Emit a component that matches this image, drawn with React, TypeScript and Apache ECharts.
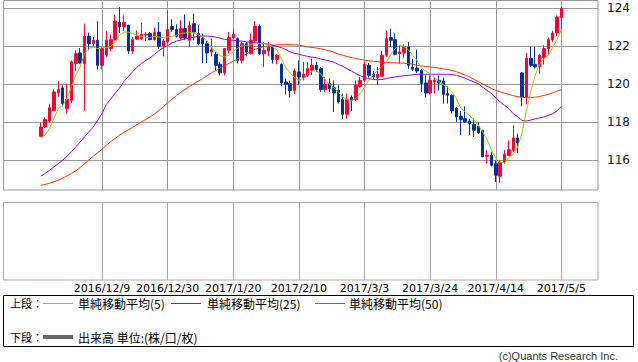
import React, { useEffect, useRef } from "react";
import * as echarts from "echarts";

// ---- data ----
function buildWeekdays(n: number): string[] {
  const out: string[] = [];
  const d = new Date(Date.UTC(2016, 10, 21));
  while (out.length < n) {
    const wd = d.getUTCDay();
    if (wd !== 0 && wd !== 6) out.push(`${d.getUTCFullYear()}/${d.getUTCMonth() + 1}/${d.getUTCDate()}`);
    d.setUTCDate(d.getUTCDate() + 1);
  }
  return out;
}
const dates: string[] = buildWeekdays(120);

const opens = [
  117.26, 117.75, 118.07, 118.63, 119.54, 119.81, 118.72, 119.16, 121.09, 121.65,
  121.09, 122.53, 122.14, 122.32, 121.0, 121.53, 121.88, 122.35, 123.26, 123.02,
  123.11, 121.75, 122.37, 122.4, 122.6, 122.67, 122.35, 122.74, 122.0, 122.23,
  123.05, 122.88, 122.44, 122.93, 122.32, 123.19, 122.67, 122.4, 122.14, 121.7,
  121.58, 121.05, 120.6, 121.79, 122.46, 122.4, 121.26, 122.14, 121.61, 122.28,
  123.05, 121.61, 121.75, 121.96, 121.3, 121.05, 120.12, 120.04, 119.68, 120.65,
  120.35, 120.47, 120.74, 121.0, 120.82, 119.72, 120.04, 119.82, 119.68, 119.19,
  118.42, 119.3, 119.19, 119.89, 120.21, 121.0, 120.53, 120.35, 120.42, 121.53,
  122.46, 122.35, 121.61, 121.65, 121.96, 120.91, 120.86, 120.74, 120.07, 119.54,
  120.12, 120.21, 120.18, 119.51, 119.42, 118.75, 118.32, 118.19, 118.07, 117.89,
  117.79, 117.58, 116.21, 116.26, 115.82, 115.16, 115.91, 116.26, 116.53, 117.18,
  120.6, 119.33, 121.37, 121.05, 120.91, 121.4, 121.88, 122.35, 122.7, 123.51,
];
const closes = [
  117.75, 118.14, 118.77, 119.6, 119.72, 118.98, 119.21, 121.18, 121.61, 121.12,
  122.53, 122.14, 122.32, 121.0, 121.88, 122.32, 122.35, 123.33, 123.02, 123.26,
  121.75, 122.35, 122.53, 122.63, 122.63, 122.35, 122.72, 122.0, 122.28, 122.88,
  122.88, 122.53, 122.93, 122.44, 123.11, 122.75, 122.14, 122.14, 121.65, 121.82,
  121.0, 120.6, 121.88, 122.46, 122.63, 121.26, 122.14, 121.7, 122.32, 123.05,
  121.61, 121.79, 121.96, 121.3, 121.53, 120.07, 120.0, 119.68, 120.7, 120.39,
  120.53, 120.82, 121.0, 120.77, 119.72, 120.0, 119.77, 119.54, 119.07, 118.42,
  119.19, 119.16, 119.95, 120.21, 121.05, 120.47, 120.39, 120.53, 121.53, 122.4,
  122.32, 121.58, 121.7, 122.0, 121.0, 120.79, 120.7, 120.04, 119.54, 120.21,
  120.21, 120.07, 119.47, 119.42, 118.6, 118.28, 118.14, 118.02, 117.93, 117.58,
  117.44, 116.18, 116.26, 115.74, 115.21, 115.91, 116.32, 116.56, 117.18, 116.91,
  119.33, 121.37, 121.0, 120.91, 121.53, 121.88, 122.35, 122.7, 123.54, 123.98,
];
const lows = [
  117.23, 117.7, 118.0, 118.58, 119.33, 118.84, 118.46, 119.0, 120.68, 121.09,
  118.6, 121.79, 121.96, 120.77, 120.79, 121.44, 121.75, 122.3, 122.7, 122.8,
  121.6, 121.61, 122.35, 122.32, 122.28, 122.32, 122.3, 121.88, 121.47, 122.18,
  122.75, 122.46, 122.35, 122.32, 121.96, 122.32, 122.05, 121.12, 121.12, 121.47,
  120.74, 120.47, 120.47, 121.61, 122.4, 121.09, 121.09, 121.47, 121.58, 122.23,
  121.53, 120.91, 121.47, 121.09, 121.05, 119.89, 119.47, 119.3, 119.49, 119.95,
  120.21, 120.39, 120.47, 120.65, 119.6, 119.6, 119.6, 118.54, 118.98, 118.19,
  118.19, 118.6, 119.12, 119.82, 120.12, 120.35, 120.28, 119.95, 120.39, 121.44,
  121.96, 121.53, 121.09, 121.4, 120.82, 120.7, 120.6, 119.6, 119.3, 119.47,
  119.51, 119.68, 118.98, 118.98, 118.46, 118.02, 117.32, 117.96, 117.32, 117.23,
  117.4, 116.18, 115.82, 115.68, 114.86, 114.81, 115.82, 116.21, 116.44, 116.39,
  118.84, 118.95, 120.91, 120.82, 120.56, 121.05, 121.53, 122.23, 122.53, 122.93,
];
const highs = [
  117.98, 118.25, 118.98, 119.72, 120.16, 119.95, 120.04, 121.26, 121.79, 121.91,
  123.19, 122.72, 122.49, 123.32, 121.96, 122.8, 122.62, 123.67, 124.07, 123.63,
  123.12, 122.49, 122.84, 123.23, 122.75, 122.75, 122.98, 123.28, 122.37, 123.86,
  123.42, 123.16, 123.37, 123.68, 123.33, 123.72, 123.11, 122.67, 122.32, 122.4,
  121.7, 121.18, 121.88, 122.75, 122.93, 122.46, 122.23, 122.23, 122.67, 123.33,
  123.16, 122.23, 122.23, 122.05, 121.61, 121.09, 120.3, 120.21, 120.82, 121.26,
  121.18, 121.18, 121.35, 121.18, 120.91, 120.39, 120.3, 120.21, 119.95, 119.51,
  119.51, 119.42, 120.21, 120.39, 121.18, 121.12, 120.7, 120.91, 121.75, 122.84,
  122.93, 122.67, 122.05, 122.11, 122.23, 121.35, 121.82, 120.82, 120.47, 120.47,
  120.35, 120.47, 120.35, 119.89, 119.47, 118.81, 118.6, 118.84, 118.19, 118.19,
  118.02, 117.58, 116.53, 116.44, 116.0, 116.0, 116.53, 117.05, 117.84, 117.4,
  120.65, 121.65, 122.0, 121.96, 121.61, 122.05, 122.46, 122.81, 123.63, 124.07,
];
const ma5 = [
  117.18, 117.32, 117.67, 118.19, 118.72, 118.89, 119.25, 119.86, 120.47, 120.91,
  121.61, 121.88, 121.96, 121.88, 121.93, 121.93, 122.0, 122.23, 122.58, 122.75,
  122.75, 122.67, 122.58, 122.53, 122.46, 122.46, 122.53, 122.49, 122.46, 122.49,
  122.53, 122.58, 122.67, 122.7, 122.74, 122.7, 122.6, 122.5, 122.28, 121.96,
  121.73, 121.5, 121.44, 121.53, 121.72, 121.9, 122.03, 122.05, 122.09, 122.14,
  122.14, 122.13, 122.11, 121.98, 121.8, 121.35, 120.88, 120.6, 120.35, 120.21,
  120.3, 120.52, 120.7, 120.7, 120.55, 120.25, 120.0, 119.83, 119.6, 119.33,
  119.2, 119.16, 119.25, 119.5, 119.85, 120.2, 120.5, 120.72, 120.95, 121.18,
  121.57, 121.88, 122.05, 122.0, 121.82, 121.53, 121.26, 120.85, 120.7, 120.56,
  120.35, 120.15, 119.98, 119.85, 119.6, 119.25, 118.75, 118.55, 118.37, 118.12,
  117.85, 117.5, 117.1, 116.55, 116.1, 115.88, 115.88, 116.15, 116.3, 116.7,
  117.45, 118.6, 119.6, 120.45, 121.05, 121.35, 121.53, 121.92, 122.35, 122.88,
];
const ma25 = [
  115.16, 115.31, 115.47, 115.65, 115.82, 116.0, 116.21, 116.45, 116.7, 116.96,
  117.23, 117.5, 117.75, 118.1, 118.46, 118.95, 119.22, 119.52, 119.8, 120.15,
  120.4, 120.66, 120.9, 121.09, 121.25, 121.4, 121.58, 121.77, 121.92, 122.04,
  122.18, 122.27, 122.33, 122.39, 122.44, 122.48, 122.52, 122.54, 122.54, 122.52,
  122.48, 122.43, 122.37, 122.34, 122.32, 122.29, 122.27, 122.24, 122.21, 122.19,
  122.17, 122.15, 122.12, 122.06, 122.0, 121.93, 121.83, 121.71, 121.63, 121.58,
  121.52, 121.47, 121.43, 121.4, 121.33, 121.28, 121.23, 121.17, 121.05, 120.95,
  120.82, 120.7, 120.57, 120.45, 120.36, 120.3, 120.25, 120.24, 120.25, 120.3,
  120.35, 120.39, 120.42, 120.45, 120.47, 120.5, 120.53, 120.53, 120.53, 120.53,
  120.53, 120.53, 120.53, 120.53, 120.51, 120.47, 120.4, 120.32, 120.22, 120.13,
  120.02, 119.85, 119.68, 119.52, 119.3, 119.07, 118.9, 118.72, 118.45, 118.3,
  118.1, 118.07, 118.12, 118.18, 118.23, 118.28, 118.36, 118.45, 118.6, 118.84,
];
const ma50 = [
  114.68, 114.73, 114.79, 114.87, 114.95, 115.06, 115.18, 115.31, 115.44, 115.62,
  115.82, 116.02, 116.21, 116.4, 116.58, 116.8, 116.98, 117.15, 117.32, 117.47,
  117.6, 117.73, 117.88, 118.02, 118.15, 118.28, 118.44, 118.62, 118.82, 119.03,
  119.22, 119.4, 119.58, 119.74, 119.88, 120.03, 120.16, 120.3, 120.45, 120.6,
  120.72, 120.86, 120.98, 121.1, 121.21, 121.33, 121.46, 121.6, 121.72, 121.85,
  121.92, 121.98, 122.02, 122.05, 122.07, 122.09, 122.09, 122.09, 122.08, 122.06,
  122.02, 121.97, 121.94, 121.91, 121.87, 121.82, 121.76, 121.69, 121.6, 121.53,
  121.46, 121.41, 121.36, 121.31, 121.27, 121.24, 121.21, 121.19, 121.16, 121.15,
  121.14, 121.13, 121.12, 121.11, 121.09, 121.06, 121.0, 120.97, 120.94, 120.91,
  120.89, 120.85, 120.81, 120.78, 120.73, 120.66, 120.58, 120.48, 120.4, 120.26,
  120.15, 120.02, 119.9, 119.78, 119.68, 119.6, 119.53, 119.47, 119.4, 119.35,
  119.31, 119.3, 119.3, 119.32, 119.36, 119.41, 119.47, 119.55, 119.64, 119.72,
];
const priceTicks = [116, 118, 120, 122, 124];
const legendNames = ["単純移動平均(5)", "単純移動平均(25)", "単純移動平均(50)"];
const volumeLabel = "出来高 単位:(株/口/枚)";

const UP = "#ff0033";
const DOWN = "#003399";
const C5 = "#99cc00";
const C25 = "#9900ff";
const C50 = "#ff3300";
const GRID = "#999999";
const Y_MIN = 114.4368;
const Y_MAX = 124.4368;

export default function App() {
  const ref = useRef<HTMLDivElement>(null);
  useEffect(() => {
    if (!ref.current) return;
    const chart = echarts.init(ref.current, undefined, { renderer: "svg" });
    const candles = opens.map((o, i) => [o, closes[i], lows[i], highs[i]]);
    const showIdx = (i: number) => i % 15 === 14;
    const jp = "'Noto Sans CJK JP', 'Noto Sans', sans-serif";
    const num = "'DejaVu Sans', sans-serif";
    const option: any = {
      animation: false,
      backgroundColor: "#ffffff",
      grid: [
        { left: 3, width: 595, top: 0, height: 190 },
        { left: 40.75, width: 520.625, top: 0, height: 190 },
        { left: 40.75, width: 520.625, top: 202, height: 78 },
      ],
      xAxis: [
        { gridIndex: 0, type: "value", show: false, min: 0, max: 1 },
        {
          gridIndex: 1, type: "category", data: dates, boundaryGap: false,
          axisLine: { show: false }, axisTick: { show: false }, axisLabel: { show: false },
          splitLine: { show: true, interval: showIdx, lineStyle: { color: GRID, width: 1 } },
        },
        {
          gridIndex: 2, type: "category", data: dates, boundaryGap: false,
          axisLine: { show: false }, axisTick: { show: false },
          axisLabel: { interval: showIdx, margin: 3, fontSize: 11, color: "#000", fontFamily: num },
          splitLine: { show: true, interval: showIdx, lineStyle: { color: "#aaaaaa", width: 1 } },
        },
      ],
      yAxis: [
        {
          gridIndex: 0, type: "value", min: Y_MIN, max: Y_MAX, position: "right",
          axisLine: { show: false },
          axisTick: { show: false, customValues: priceTicks },
          axisLabel: { margin: 9, fontSize: 12, color: "#111", fontFamily: num, customValues: priceTicks },
          splitLine: { show: true, lineStyle: { color: GRID, width: 1 } },
        },
        { gridIndex: 1, type: "value", min: Y_MIN, max: Y_MAX, show: false, splitLine: { show: false } },
        { gridIndex: 2, type: "value", min: 0, max: 1, show: false, splitLine: { show: false } },
      ],
      series: [
        {
          type: "candlestick", xAxisIndex: 1, yAxisIndex: 1, data: candles, barWidth: 3, clip: false,
          itemStyle: { color: UP, color0: DOWN, borderColor: UP, borderColor0: DOWN, borderWidth: 1 },
        },
        { type: "line", xAxisIndex: 1, yAxisIndex: 1, data: ma50, showSymbol: false, lineStyle: { color: C50, width: 1 }, z: 3 },
        { type: "line", xAxisIndex: 1, yAxisIndex: 1, data: ma25, showSymbol: false, lineStyle: { color: C25, width: 1 }, z: 3 },
        { type: "line", xAxisIndex: 1, yAxisIndex: 1, data: ma5, showSymbol: false, lineStyle: { color: C5, width: 1 }, z: 3 },
      ],
      graphic: [
        { type: "rect", z: 50, shape: { x: 3.5, y: 0.5, width: 594.5, height: 189.5 }, style: { fill: "none", stroke: GRID, lineWidth: 1 } },
        { type: "rect", z: 50, shape: { x: 3.5, y: 202.5, width: 594.5, height: 77.5 }, style: { fill: "none", stroke: "#aaaaaa", lineWidth: 1 } },
        { type: "rect", z: 50, shape: { x: 3.5, y: 295.5, width: 630, height: 51 }, style: { fill: "none", stroke: "#000", lineWidth: 1 } },
        { type: "text", z: 50, x: 10, y: 303, style: { text: "上段：", fontSize: 11, fill: "#000", verticalAlign: "middle", fontFamily: jp } },
        { type: "line", z: 50, shape: { x1: 43, y1: 303.5, x2: 73, y2: 303.5 }, style: { stroke: C5, lineWidth: 1 } },
        { type: "text", z: 50, x: 78, y: 303, style: { text: legendNames[0], fontSize: 12, fill: "#000", verticalAlign: "middle", fontFamily: jp } },
        { type: "line", z: 50, shape: { x1: 171, y1: 303.5, x2: 201, y2: 303.5 }, style: { stroke: C25, lineWidth: 1 } },
        { type: "text", z: 50, x: 207, y: 303, style: { text: legendNames[1], fontSize: 12, fill: "#000", verticalAlign: "middle", fontFamily: jp } },
        { type: "line", z: 50, shape: { x1: 315, y1: 303.5, x2: 345, y2: 303.5 }, style: { stroke: C50, lineWidth: 1 } },
        { type: "text", z: 50, x: 349, y: 303, style: { text: legendNames[2], fontSize: 12, fill: "#000", verticalAlign: "middle", fontFamily: jp } },
        { type: "text", z: 50, x: 10, y: 337, style: { text: "下段：", fontSize: 11, fill: "#000", verticalAlign: "middle", fontFamily: jp } },
        { type: "line", z: 50, shape: { x1: 43, y1: 337, x2: 73, y2: 337 }, style: { stroke: "#666666", lineWidth: 4 } },
        { type: "text", z: 50, x: 78, y: 337, style: { text: volumeLabel, fontSize: 12, fill: "#000", verticalAlign: "middle", fontFamily: jp } },
        { type: "text", z: 50, x: 618, y: 356, style: { text: "(c)Quants Research Inc.", fontSize: 11, fill: "#333", align: "right", verticalAlign: "middle", fontFamily: "'Liberation Sans', sans-serif" } },
      ],
    };
    chart.setOption(option);
    return () => chart.dispose();
  }, []);
  return <div ref={ref} style={{ position: "absolute", left: 0, top: 0, width: 638, height: 362 }} />;
}
